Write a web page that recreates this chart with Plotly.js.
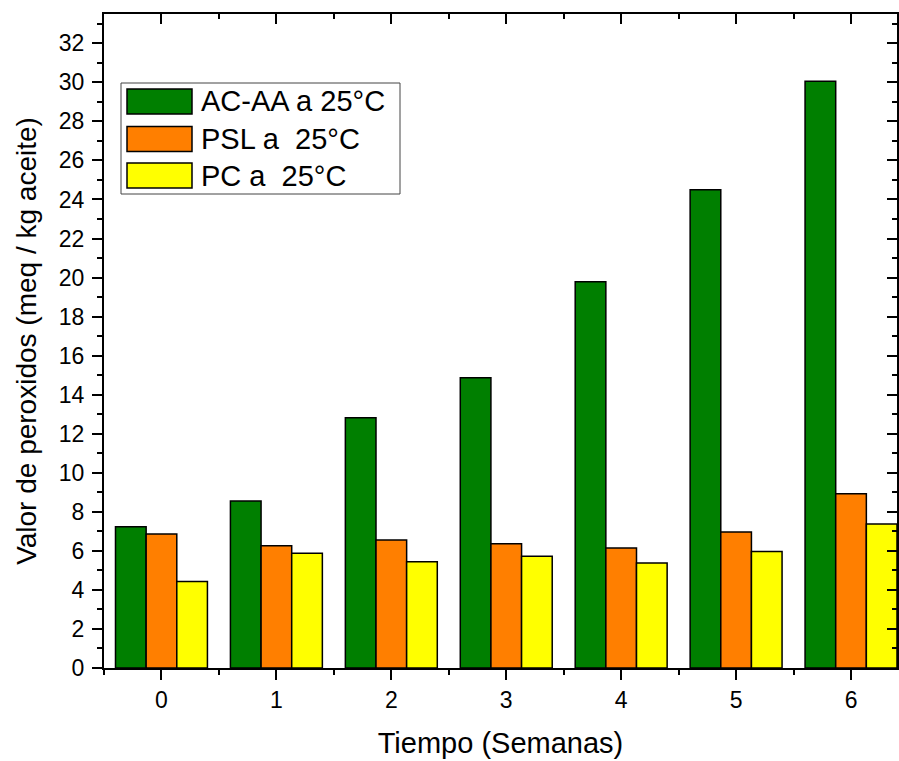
<!DOCTYPE html>
<html>
<head>
<meta charset="utf-8">
<script src="https://cdn.plot.ly/plotly-3.0.1.min.js"></script>
<style>html,body{margin:0;padding:0;background:#fff;}#chart{width:899px;height:761px;}</style>
</head>
<body>
<div id="chart"></div>
<script>
// ---- data ----
const weeks = [0, 1, 2, 3, 4, 5, 6];
const seriesNames = ["AC-AA a 25°C", "PSL a  25°C", "PC a  25°C"];
const acaa = [7.23, 8.55, 12.82, 14.87, 19.79, 24.5, 30.05];
const psl = [6.87, 6.26, 6.56, 6.36, 6.15, 6.96, 8.92];
const pc = [4.43, 5.88, 5.44, 5.72, 5.38, 5.97, 7.37];
const xTickLabels = ["0", "1", "2", "3", "4", "5", "6"];
const seriesColors = ["#007f00", "#ff7f00", "#ffff00"];

const FONT = "Arial, 'Liberation Sans', Helvetica, sans-serif";
const W = 899, H = 761;
const M = {l: 104, r: 2, t: 14, b: 93};
const PW = W - M.l - M.r, PH = H - M.t - M.b;
const px = x => (x - M.l) / PW;
const py = y => (H - M.b - y) / PH;

const values = [acaa, psl, pc];
const traces = values.map((v, i) => ({
  type: "bar",
  x: weeks,
  y: v,
  name: seriesNames[i],
  marker: {color: seriesColors[i], line: {color: "#000", width: 1.5}},
  showlegend: false,
  hoverinfo: "x+y+name"
}));
// empty helper trace so the mirrored (top/right) frame axes get drawn
traces.push({type: "scatter", x: [], y: [], xaxis: "x2", yaxis: "y2", showlegend: false, hoverinfo: "skip"});

// custom legend (large swatches like original)
const shapes = [{
  type: "rect", xref: "paper", yref: "paper",
  x0: px(121), x1: px(400), y0: py(83), y1: py(194),
  line: {color: "#444", width: 1}, fillcolor: "rgba(255,255,255,1)", layer: "above"
}];
const annotations = [];
const rowC = [101.5, 139, 175.5];
seriesNames.forEach((n, i) => {
  shapes.push({
    type: "rect", xref: "paper", yref: "paper",
    x0: px(127), x1: px(192), y0: py(rowC[i] - 12.5), y1: py(rowC[i] + 12.5),
    line: {color: "#000", width: 1.5}, fillcolor: seriesColors[i], layer: "above"
  });
  annotations.push({
    xref: "paper", yref: "paper", x: px(199), y: py(rowC[i]),
    xanchor: "left", yanchor: "middle", text: n, showarrow: false,
    font: {family: FONT, size: 29, color: "#000"}
  });
});

const xr = [-0.5, 6.4], yr = [0, 33.5];
const layout = {
  width: W, height: H,
  margin: M,
  paper_bgcolor: "#fff", plot_bgcolor: "#fff",
  font: {family: FONT, color: "#000"},
  barmode: "group", bargap: 0.2, bargroupgap: 0,
  xaxis: {
    range: xr, tickmode: "array", tickvals: weeks, ticktext: xTickLabels,
    ticks: "outside", ticklen: 10, tickwidth: 2, tickcolor: "#000",
    minor: {tick0: 0.5, dtick: 1, ticks: "outside", ticklen: 5, tickwidth: 2, tickcolor: "#000"},
    showline: true, linewidth: 2, linecolor: "#000", showgrid: false, zeroline: false,
    tickfont: {family: FONT, size: 23, color: "#000"},
    title: {text: "Tiempo (Semanas)", font: {family: FONT, size: 29, color: "#000"}, standoff: 21},
    automargin: false, fixedrange: true
  },
  yaxis: {
    range: yr, dtick: 2, tick0: 0,
    ticks: "outside", ticklen: 10, tickwidth: 2, tickcolor: "#000",
    minor: {dtick: 1, ticks: "outside", ticklen: 5, tickwidth: 2, tickcolor: "#000"},
    showline: true, linewidth: 2, linecolor: "#000", showgrid: false, zeroline: false,
    tickfont: {family: FONT, size: 23, color: "#000"}, ticklabelstandoff: 3,
    title: {text: "Valor de peroxidos (meq / kg aceite)", font: {family: FONT, size: 28, color: "#000"}, standoff: 14},
    automargin: false, fixedrange: true
  },
  xaxis2: {
    overlaying: "x", side: "top", anchor: "y2", range: xr,
    tickmode: "array", tickvals: weeks, showticklabels: false,
    ticks: "inside", ticklen: 10, tickwidth: 2, tickcolor: "#000",
    minor: {tick0: 0.5, dtick: 1, ticks: "inside", ticklen: 5, tickwidth: 2, tickcolor: "#000"},
    showline: true, linewidth: 2, linecolor: "#000", showgrid: false, zeroline: false, fixedrange: true
  },
  yaxis2: {
    overlaying: "y", side: "right", anchor: "x2", range: yr, dtick: 2, tick0: 0,
    showticklabels: false,
    ticks: "inside", ticklen: 10, tickwidth: 2, tickcolor: "#000",
    minor: {dtick: 1, ticks: "inside", ticklen: 5, tickwidth: 2, tickcolor: "#000"},
    showline: true, linewidth: 2, linecolor: "#000", showgrid: false, zeroline: false, fixedrange: true
  },
  shapes: shapes,
  annotations: annotations,
  showlegend: false
};

Plotly.newPlot("chart", traces, layout, {displayModeBar: false, staticPlot: true});
</script>
</body>
</html>
